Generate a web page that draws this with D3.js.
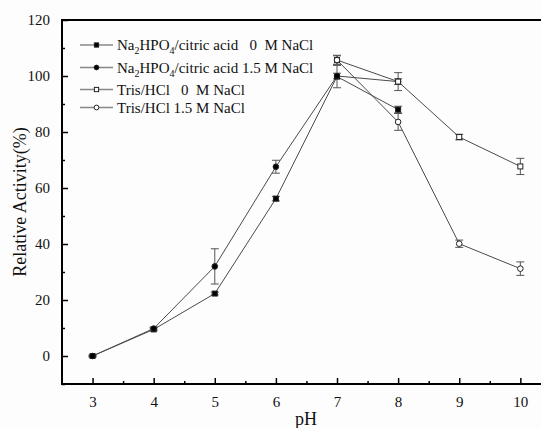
<!DOCTYPE html>
<html><head><meta charset="utf-8">
<script src="https://cdn.jsdelivr.net/npm/d3@7"></script>
<style>body{margin:0;background:#fdfdfd}svg{display:block}</style>
</head><body>
<svg id="c" width="541" height="428"></svg>
<script>
const phA = [3, 4, 5, 6, 7, 8];
const naZero = [0, 9.5, 22.3, 56.2, 99.8, 88];
const naZeroErr = [0.3, 0.5, 0.5, 0.8, 4, 1.2];
const naSalt = [0, 9.8, 32, 67.6, 100, 98];
const naSaltErr = [0.3, 0.5, 6.3, 2.3, 1, 1];
const phB = [7, 8, 9, 10];
const trisZero = [105.7, 98, 78.2, 67.7];
const trisZeroErr = [1.7, 3.2, 1, 2.9];
const trisSalt = [105.7, 83.6, 40.1, 31.2];
const trisSaltErr = [1.5, 3, 1.3, 2.4];
const xTicks = [3, 4, 5, 6, 7, 8, 9, 10];
const yTicks = [0, 20, 40, 60, 80, 100, 120];

const svg = d3.select("#c");
const font = "'Liberation Serif','Times New Roman',serif";
const x = d3.scaleLinear().domain([2.5, 10.5]).range([62, 550.9]);
const y = d3.scaleLinear().domain([-10, 120]).range([384, 20]);

// frame
svg.append("rect").attr("x", 62).attr("y", 20).attr("width", 550.9 - 62).attr("height", 364)
  .attr("fill", "none").attr("stroke", "#000").attr("stroke-width", 2);

// axes
const xAx = svg.append("g").attr("transform", "translate(0,384)")
  .call(d3.axisBottom(x).tickValues(xTicks).tickSize(-6).tickPadding(12).tickFormat(d3.format("d")));
const xMinor = svg.append("g").attr("transform", "translate(0,384)")
  .call(d3.axisBottom(x).tickValues(d3.range(3.5, 10.5, 1)).tickSize(-3).tickFormat(""));
const yAx = svg.append("g").attr("transform", "translate(62,0)")
  .call(d3.axisLeft(y).tickValues(yTicks).tickSize(-6).tickPadding(12).tickFormat(d3.format("d")));
const yMinor = svg.append("g").attr("transform", "translate(62,0)")
  .call(d3.axisLeft(y).tickValues(d3.range(-10, 120, 20)).tickSize(-3).tickFormat(""));
[xAx, xMinor, yAx, yMinor].forEach(g => {
  g.select(".domain").remove();
  g.selectAll("line").attr("stroke", "#000").attr("stroke-width", 1.5);
  g.selectAll("text").attr("font-family", font).attr("font-size", 15).attr("fill", "#111");
});

svg.append("text").attr("x", 306).attr("y", 425).attr("text-anchor", "middle")
  .attr("font-family", font).attr("font-size", 18).attr("fill", "#111").text("pH");
svg.append("text").attr("transform", "translate(26,202) rotate(-90)").attr("text-anchor", "middle")
  .attr("font-family", font).attr("font-size", 18).attr("fill", "#111").text("Relative Activity(%)");

const series = [
  {xs: phA, v: naZero, e: naZeroErr, shape: "square", fill: "#000"},
  {xs: phA, v: naSalt, e: naSaltErr, shape: "circle", fill: "#000"},
  {xs: phB, v: trisZero, e: trisZeroErr, shape: "square", fill: "#fff"},
  {xs: phB, v: trisSalt, e: trisSaltErr, shape: "circle", fill: "#fff"}
];
const line = d3.line().x(d => x(d[0])).y(d => y(d[1]));

function marker(g, cx, cy, s, k) {
  if (s.shape === "square") {
    const h = 2.5 * k;
    g.append("rect").attr("x", cx - h).attr("y", cy - h).attr("width", 2 * h).attr("height", 2 * h)
      .attr("fill", s.fill).attr("stroke", "#222").attr("stroke-width", 1);
  } else {
    g.append("circle").attr("cx", cx).attr("cy", cy).attr("r", 2.8 * k)
      .attr("fill", s.fill).attr("stroke", "#222").attr("stroke-width", 1);
  }
}

series.forEach(s => {
  const pts = s.xs.map((p, i) => [p, s.v[i]]);
  svg.append("path").attr("d", line(pts)).attr("fill", "none").attr("stroke", "#4a4a4a").attr("stroke-width", 1);
});
series.forEach(s => {
  const g = svg.append("g");
  s.xs.forEach((p, i) => {
    const cx = x(p), y1 = y(s.v[i] + s.e[i]), y2 = y(s.v[i] - s.e[i]);
    g.append("line").attr("x1", cx).attr("x2", cx).attr("y1", y1).attr("y2", y2).attr("stroke", "#555").attr("stroke-width", 1);
    [y1, y2].forEach(yy => g.append("line").attr("x1", cx - 4).attr("x2", cx + 4).attr("y1", yy).attr("y2", yy)
      .attr("stroke", "#555").attr("stroke-width", 1));
  });
});
series.forEach(s => {
  const g = svg.append("g");
  s.xs.forEach((p, i) => marker(g, x(p), y(s.v[i]), s, 1));
});

// legend
const legendRows = [
  {parts: [["Na", 0], ["2", 1], ["HPO", 0], ["4", 1], ["/citric acid   0  M NaCl", 0]], y: 45},
  {parts: [["Na", 0], ["2", 1], ["HPO", 0], ["4", 1], ["/citric acid 1.5 M NaCl", 0]], y: 67.5},
  {parts: [["Tris/HCl   0  M NaCl", 0]], y: 89.5},
  {parts: [["Tris/HCl 1.5 M NaCl", 0]], y: 107.5}
];
legendRows.forEach((r, i) => {
  const g = svg.append("g");
  g.append("line").attr("x1", 80).attr("x2", 113).attr("y1", r.y).attr("y2", r.y)
    .attr("stroke", "#888").attr("stroke-width", 1.5);
  marker(g, 96.5, r.y, series[i], 0.85);
  const t = g.append("text").attr("x", 117).attr("y", r.y + 5).attr("font-family", font)
    .attr("font-size", 15).attr("fill", "#111").attr("xml:space", "preserve").style("white-space", "pre");
  let sub = false;
  r.parts.forEach(([txt, isSub]) => {
    const ts = t.append("tspan").text(txt);
    if (isSub && !sub) { ts.attr("dy", 4).attr("font-size", 10); sub = true; }
    else if (isSub && sub) { ts.attr("font-size", 10); }
    else if (!isSub && sub) { ts.attr("dy", -4); sub = false; }
  });
});
</script>
</body></html>
